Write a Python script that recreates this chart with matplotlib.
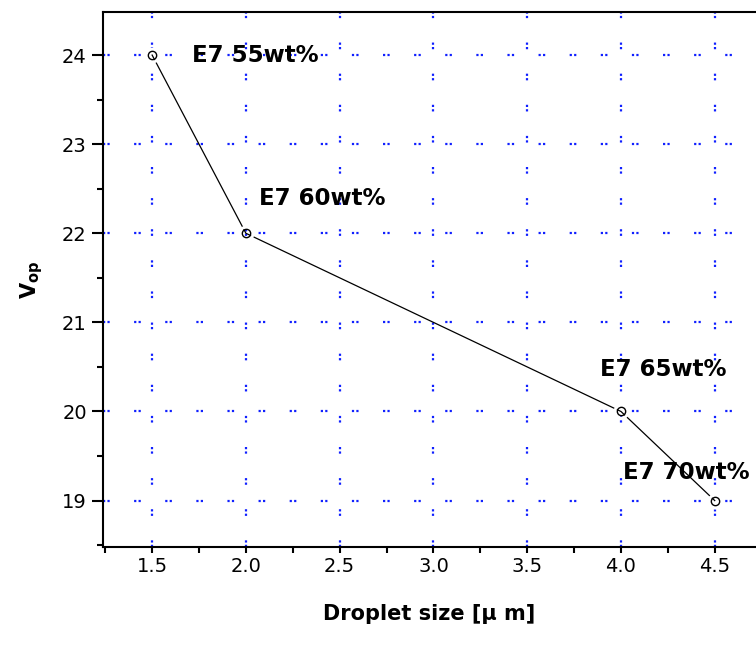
import matplotlib
matplotlib.use("Agg")
import matplotlib.pyplot as plt
from matplotlib.ticker import MultipleLocator, FormatStrFormatter

# droplet size vs operating voltage
droplet = [1.5, 2.0, 4.0, 4.5]
vop = [24, 22, 20, 19]
labels = ["E7 55wt%", "E7 60wt%", "E7 65wt%", "E7 70wt%"]
label_pos = [(1.715, 24.0), (2.07, 22.39), (3.89, 20.47), (4.01, 19.32)]

plt.rcParams['font.family'] = ['DejaVu Sans']

fig = plt.figure(figsize=(7.56, 6.48), dpi=100)
ax = fig.add_axes([0.136, 0.156, 0.864, 0.825])

ax.plot(droplet, vop, color='black', lw=0.9, zorder=3)
# white ring so the line stops short of each marker
ax.plot(droplet, vop, ls='none', marker='o', ms=9.5, mfc='none', mec='white', mew=2, zorder=4)
ax.plot(droplet, vop, ls='none', marker='o', ms=6, mfc='none', mec='black', mew=1.0, zorder=5)

for txt, (x, y) in zip(labels, label_pos):
    ax.text(x, y, txt, fontsize=16.5, fontweight='bold', ha='left', va='center', zorder=6)

ax.set_xlim(1.237, 4.72)
ax.set_ylim(18.48, 24.48)
ax.xaxis.set_major_locator(MultipleLocator(0.5))
ax.xaxis.set_minor_locator(MultipleLocator(0.25))
ax.yaxis.set_major_locator(MultipleLocator(1))
ax.yaxis.set_minor_locator(MultipleLocator(0.5))
ax.xaxis.set_major_formatter(FormatStrFormatter('%.1f'))

ax.grid(True, which='major', color='#1020ff', linestyle=(0, (1, 1, 1, 11)), lw=1.6)
ax.tick_params(axis='x', which='both', direction='out', length=4, width=1.5, labelsize=14)
ax.tick_params(axis='y', which='major', direction='out', length=8, width=1.5, labelsize=14)
ax.tick_params(axis='y', which='minor', direction='out', length=4, width=1.5)
for s in ['left', 'bottom', 'top']:
    ax.spines[s].set_linewidth(1.5)
ax.spines['right'].set_visible(False)

ax.set_xlabel("Droplet size [μ m]", fontsize=15, fontweight='bold', labelpad=20)
ax.set_ylabel(r"$\mathbf{V_{op}}$", fontsize=15, labelpad=12)

fig.savefig("out.png", dpi=100)
